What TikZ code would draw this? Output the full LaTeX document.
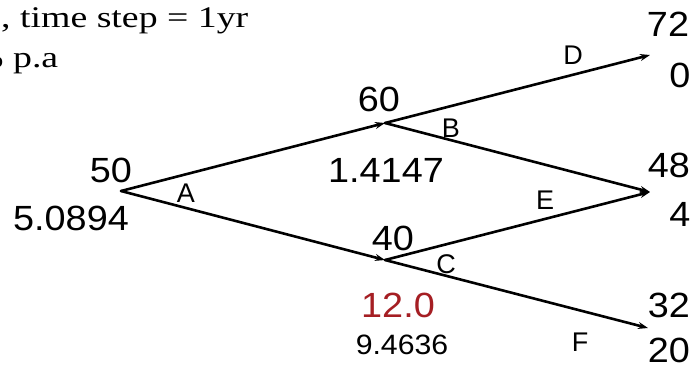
\documentclass[tikz,border=0pt]{standalone}
\usepackage{fontspec}
\setmainfont{Liberation Serif}
\newfontfamily\numfont{Liberation Sans}
\usetikzlibrary{arrows.meta}
\definecolor{myred}{RGB}{165,30,35}
\tikzset{
  big/.style={inner sep=0pt,anchor=center,font=\numfont\fontsize{35}{35}\selectfont},
  small/.style={inner sep=0pt,anchor=center,font=\numfont\fontsize{28}{28}\selectfont},
  lbl/.style={inner sep=0pt,anchor=center,font=\numfont\fontsize{27}{27}\selectfont},
  note/.style={inner sep=0pt,anchor=base west,font=\fontsize{30}{30}\selectfont},
  branch/.style={line width=2.6pt,line cap=round,-{Stealth[length=10pt,width=7pt]}}
}
\newcommand{\wide}[1]{\scalebox{1.08}[1]{#1}}
\begin{document}
\begin{tikzpicture}[x=1pt,y=-1pt]
\useasboundingbox (0,0) rectangle (694,367);
\clip (0,0) rectangle (694,367);
\fill[white] (0,0) rectangle (694,367);
% header text
\node[note] (t1) at (1,27) {\scalebox{1.26}[1]{, time step = 1yr}};
\node[note] (t2) at (-28,67) {\scalebox{1.26}[1]{\% p.a}};
% tree points
\coordinate (root) at (121,191);
\coordinate (up) at (385,123);
\coordinate (dn) at (385,260);
\coordinate (fu) at (650,55);
\coordinate (fm) at (650,192);
\coordinate (fd) at (648,328);
\draw[branch] (root) -- (up);
\draw[branch] (root) -- (dn);
\draw[branch] (up) -- (fu);
\draw[branch] (up) -- (fm);
\draw[branch] (dn) -- (fm);
\draw[branch] (dn) -- (fd);
% values
\node[big] (v50) at (111,170) {\wide{50}};
\node[big] (o50) at (71,218) {\wide{5.0894}};
\node[big] (v60) at (379,99) {\wide{60}};
\node[big] (o60) at (386,170) {\wide{1.4147}};
\node[big] (v40) at (393,238) {\wide{40}};
\node[big,text=myred] (r40) at (398,305) {\wide{12.0}};
\node[small] (o40) at (402,345) {\wide{9.4636}};
\node[big] (v72) at (668,24) {\wide{72}};
\node[big] (o72) at (680,75) {\wide{0}};
\node[big] (v48) at (669,165) {\wide{48}};
\node[big] (o48) at (680,214) {\wide{4}};
\node[big] (v32) at (669,305) {\wide{32}};
\node[big] (o32) at (669,350) {\wide{20}};
% branch labels
\node[lbl] (A) at (186,193) {A};
\node[lbl] (B) at (451,128) {B};
\node[lbl] (C) at (446,264) {C};
\node[lbl] (D) at (573,55) {D};
\node[lbl] (E) at (545,200) {E};
\node[lbl] (F) at (580,342) {F};
\end{tikzpicture}
\end{document}
